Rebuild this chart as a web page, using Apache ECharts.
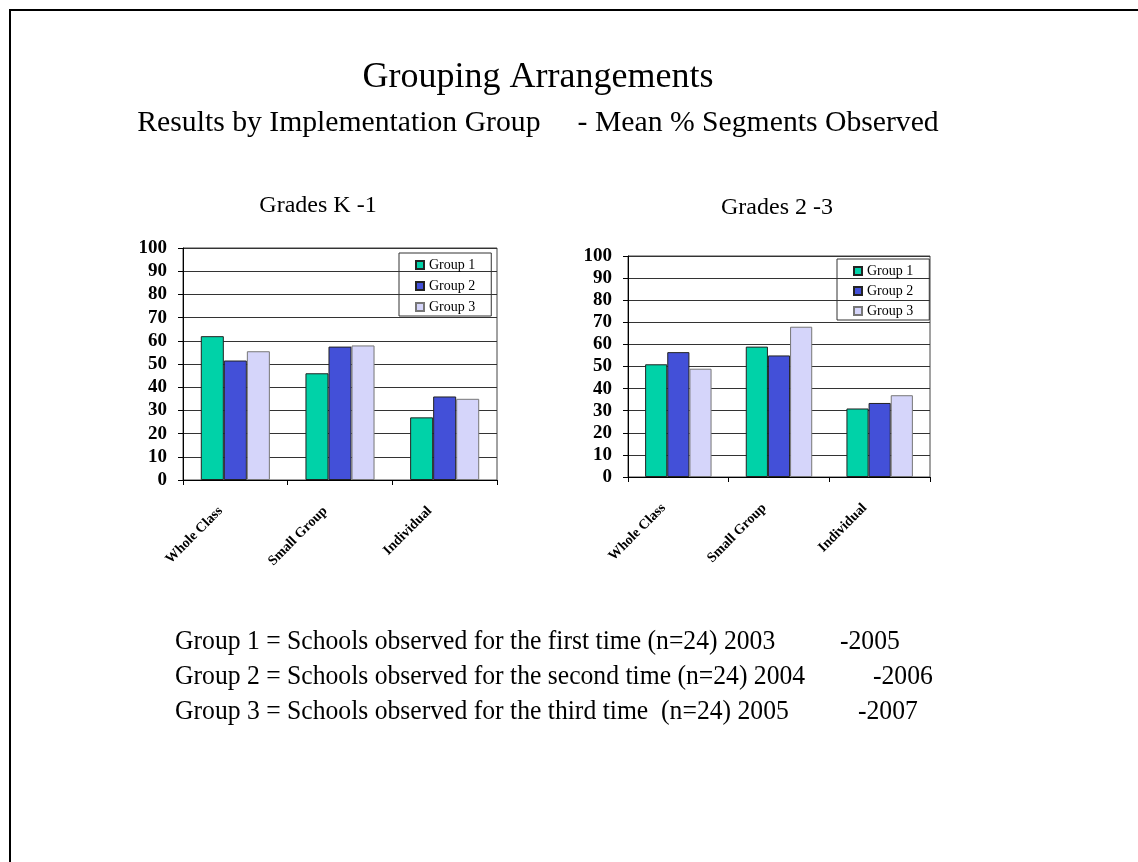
<!DOCTYPE html>
<html>
<head>
<meta charset="utf-8">
<script src="https://cdn.jsdelivr.net/npm/echarts@6/dist/echarts.min.js"></script>
<style>
  html, body { margin: 0; padding: 0; background: #fff; }
  #chart { width: 1138px; height: 862px; }
</style>
</head>
<body>
<div id="chart"></div>
<script>
// Categories and mean % of segments observed per implementation group
const categories = ['Whole Class', 'Small Group', 'Individual'];
const groupNames = ['Group 1', 'Group 2', 'Group 3'];

// Grades K-1
const k1Group1 = [62, 46, 27];
const k1Group2 = [51.5, 57.5, 36];
const k1Group3 = [55.5, 58, 35];

// Grades 2-3
const g23Group1 = [51, 59, 31];
const g23Group2 = [56.5, 55, 33.5];
const g23Group3 = [49, 68, 37];

const yTicks = { min: 0, max: 100, interval: 10 };

const colors = ['#00D2A8', '#4350D8', '#D5D5FA'];
const serif = '"Liberation Serif", "DejaVu Serif", serif';

const chart = echarts.init(document.getElementById('chart'), null, { renderer: 'canvas' });

function makeY(gridIndex) {
  return {
    type: 'value', gridIndex, min: yTicks.min, max: yTicks.max, interval: yTicks.interval,
    axisLine: { show: true, lineStyle: { color: '#000', width: 1 } },
    axisTick: { show: true, length: 5, lineStyle: { color: '#000' } },
    splitLine: { show: true, lineStyle: { color: '#333', width: 1 } },
    axisLabel: { fontFamily: serif, fontWeight: 'bold', fontSize: 19, color: '#000', margin: 16 }
  };
}
function makeX(gridIndex) {
  return {
    type: 'category', gridIndex, data: categories,
    axisLine: { show: true, lineStyle: { color: '#000', width: 1 } },
    axisTick: { show: true, length: 5, lineStyle: { color: '#000' } },
    axisLabel: {
      rotate: 45, fontFamily: serif, fontWeight: 'bold', fontSize: 14, color: '#000',
      margin: 14, padding: [0, 21, 0, 0], interval: 0
    }
  };
}
function makeBar(name, data, idx, axisIndex) {
  return {
    type: 'bar', name, data, xAxisIndex: axisIndex, yAxisIndex: axisIndex,
    barGap: '0%', barCategoryGap: '34%',
    itemStyle: { color: colors[idx], borderColor: idx === 2 ? '#777' : '#222', borderWidth: 1 },
    emphasis: { disabled: true }
  };
}
function makeLegend(left, top, gap, padding) {
  return {
    orient: 'vertical', left, top, data: groupNames,
    itemWidth: 8, itemHeight: 8, itemGap: gap,
    icon: 'rect',
    borderColor: '#333', borderWidth: 1, padding,
    textStyle: { fontFamily: serif, fontSize: 14, color: '#000' },
    selectedMode: false
  };
}

// Headings: main title, subtitle and the two panel titles
const headings = [
  { text: 'Grouping Arrangements', x: 538, y: 78, size: 36 },
  { text: 'Results by Implementation Group     - Mean % Segments Observed', x: 538, y: 123, size: 29.7 },
  { text: 'Grades K -1', x: 318, y: 206, size: 24 },
  { text: 'Grades 2 -3', x: 777, y: 208, size: 24 }
];

// Bottom legend text: label part and the date range part
const notes = [
  { text: 'Group 1 = Schools observed for the first time (n=24) 2003', range: '-2005', rx: 840, y: 642 },
  { text: 'Group 2 = Schools observed for the second time (n=24) 2004', range: '-2006', rx: 873, y: 677 },
  { text: 'Group 3 = Schools observed for the third time  (n=24) 2005', range: '-2007', rx: 858, y: 712 }
];

const graphics = [
  { type: 'polyline', shape: { points: [[10, 862], [10, 10], [1138, 10]] }, style: { stroke: '#000', lineWidth: 2, fill: null } }
];
headings.forEach(h => {
  graphics.push({
    type: 'text', x: h.x, y: h.y,
    style: { text: h.text, font: h.size + 'px ' + serif, fill: '#000', textAlign: 'center', textVerticalAlign: 'middle' }
  });
});
notes.forEach(n => {
  graphics.push({
    type: 'text', x: 175, y: n.y, scaleX: 0.95,
    style: { text: n.text, font: '27px ' + serif, fill: '#000', textVerticalAlign: 'middle' }
  });
  graphics.push({
    type: 'text', x: n.rx, y: n.y, scaleX: 0.95,
    style: { text: n.range, font: '27px ' + serif, fill: '#000', textVerticalAlign: 'middle' }
  });
});

chart.setOption({
  animation: false,
  backgroundColor: '#fff',
  legend: [
    makeLegend(399, 253, 7, [5, 16, 2, 16]),
    makeLegend(837, 259, 6, [5, 16, 2, 16])
  ],
  grid: [
    { left: 183, top: 248, width: 314, height: 232, show: true, borderColor: '#444', borderWidth: 1, backgroundColor: 'transparent' },
    { left: 628, top: 256, width: 302, height: 221, show: true, borderColor: '#444', borderWidth: 1, backgroundColor: 'transparent' }
  ],
  xAxis: [makeX(0), makeX(1)],
  yAxis: [makeY(0), makeY(1)],
  series: [
    makeBar('Group 1', k1Group1, 0, 0),
    makeBar('Group 2', k1Group2, 1, 0),
    makeBar('Group 3', k1Group3, 2, 0),
    makeBar('Group 1', g23Group1, 0, 1),
    makeBar('Group 2', g23Group2, 1, 1),
    makeBar('Group 3', g23Group3, 2, 1)
  ],
  graphic: graphics
});
</script>
</body>
</html>
